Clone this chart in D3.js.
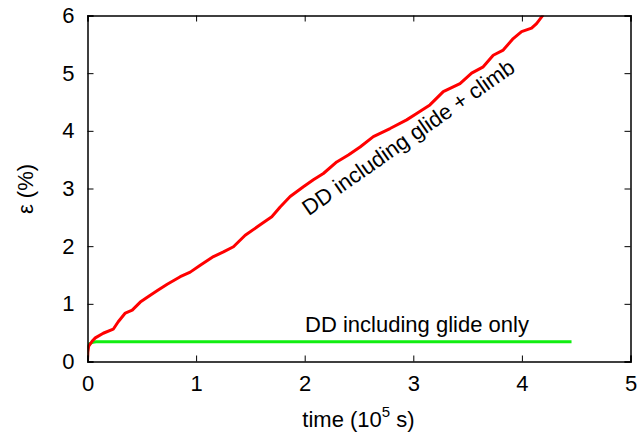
<!DOCTYPE html>
<html><head><meta charset="utf-8">
<script src="https://cdn.jsdelivr.net/npm/d3@7"></script>
<style>body{margin:0;background:#fff}svg{display:block}text{font-family:"Liberation Sans",Arial,Helvetica,sans-serif;fill:#000}</style>
</head><body>
<script>
const xTicks = [0,1,2,3,4,5];
const yTicks = [0,1,2,3,4,5,6];
const climbT = [0,0.003,0.01,0.044,0.072,0.145,0.237,0.283,0.348,0.412,0.486,0.578,0.651,0.734,0.854,0.946,1.038,1.16,1.252,1.344,1.452,1.59,1.697,1.774,1.866,1.988,2.08,2.172,2.295,2.402,2.51,2.632,2.786,2.939,3.031,3.153,3.276,3.43,3.537,3.644,3.736,3.828,3.92,3.997,4.089,4.135,4.196];
const climbE = [0,0.165,0.26,0.355,0.41,0.49,0.56,0.69,0.84,0.89,1.03,1.15,1.24,1.34,1.47,1.55,1.67,1.82,1.90,1.99,2.19,2.37,2.51,2.68,2.86,3.03,3.15,3.26,3.46,3.58,3.72,3.90,4.04,4.19,4.30,4.45,4.68,4.82,5.00,5.11,5.31,5.40,5.60,5.72,5.78,5.86,6.01];
const glideT = [0,0.001,0.005,0.02,0.05,0.08,4.457];
const glideE = [0,0.2,0.26,0.31,0.335,0.343,0.343];

const W=638,H=436;
const svg=d3.select("body").append("svg").attr("width",W).attr("height",H);
svg.append("rect").attr("width",W).attr("height",H).attr("fill","#fff");
const x=d3.scaleLinear().domain([0,5]).range([87.5,630.5]);
const y=d3.scaleLinear().domain([0,6]).range([361.5,15.5]);

svg.append("clipPath").attr("id","pc").append("rect")
  .attr("x",x(0)).attr("y",y(6)).attr("width",x(5)-x(0)).attr("height",y(0)-y(6));

const line=d3.line().x(d=>x(d[0])).y(d=>y(d[1]));
const g=svg.append("g").attr("clip-path","url(#pc)");
g.append("path").datum(glideT.map((t,i)=>[t,glideE[i]]))
  .attr("d",line).attr("fill","none").attr("stroke","#11ee11").attr("stroke-width",3).attr("stroke-linejoin","round");
g.append("path").datum(climbT.map((t,i)=>[t,climbE[i]]))
  .attr("d",line).attr("fill","none").attr("stroke","#ff0000").attr("stroke-width",3).attr("stroke-linejoin","round");

const fs=22;
const ax=svg.append("g");
ax.append("g").attr("transform",`translate(0,${y(0)})`).call(d3.axisBottom(x).tickValues(xTicks).tickSize(-6).tickPadding(14).tickFormat(d3.format("d")));
ax.append("g").attr("transform",`translate(0,${y(6)})`).call(d3.axisTop(x).tickValues(xTicks).tickSize(-6).tickFormat(""));
ax.append("g").attr("transform",`translate(${x(0)},0)`).call(d3.axisLeft(y).tickValues(yTicks).tickSize(-6).tickPadding(13).tickFormat(d3.format("d")));
ax.append("g").attr("transform",`translate(${x(5)},0)`).call(d3.axisRight(y).tickValues(yTicks).tickSize(-6).tickFormat(""));
ax.selectAll(".domain").attr("stroke","#000").attr("stroke-width",1.5);
ax.selectAll(".tick line").attr("stroke","#000").attr("stroke-width",1);
ax.selectAll(".tick text").attr("font-size",fs).attr("font-family","Liberation Sans, Arial, sans-serif").attr("fill","#000");

const xt=svg.append("text").attr("x",358.5).attr("y",427).attr("text-anchor","middle").attr("font-size",fs);
xt.append("tspan").text("time (10");
xt.append("tspan").attr("dy",-10).attr("font-size",15).text("5");
xt.append("tspan").attr("dy",10).text(" s)");
svg.append("text").attr("transform","translate(33,189) rotate(-90)").attr("text-anchor","middle").attr("font-size",fs).text("ε (%)");

svg.append("text").attr("x",417).attr("y",332).attr("text-anchor","middle").attr("font-size",fs).text("DD including glide only");
svg.append("text").attr("transform","translate(408,137) rotate(-35)").attr("x",0).attr("y",8).attr("text-anchor","middle").attr("font-size",fs).text("DD including glide + climb");
</script>
</body></html>
